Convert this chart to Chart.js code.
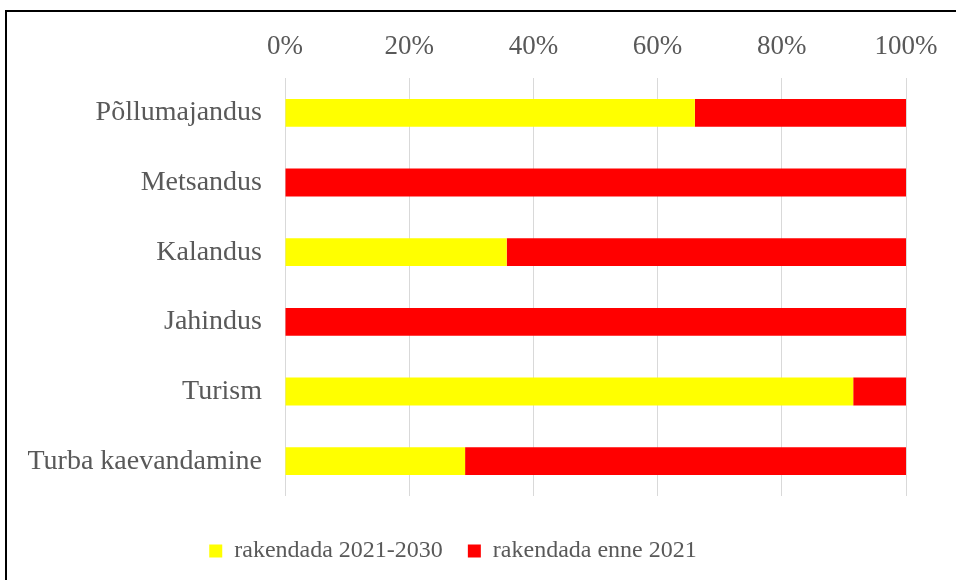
<!DOCTYPE html>
<html>
<head>
<meta charset="utf-8">
<script src="https://cdn.jsdelivr.net/npm/chart.js@4"></script>
<style>
  html, body { margin: 0; padding: 0; overflow: hidden; background: #fff; }
  #frame { position: absolute; left: 5px; top: 10px; width: 1000px; height: 700px; border: 2px solid #000; }
  #wrap { position: absolute; left: 0; top: 0; width: 956px; height: 580px; }
</style>
</head>
<body>
<div id="frame"></div>
<div id="wrap"><canvas id="myChart"></canvas></div>
<script>
const categories = ['Põllumajandus', 'Metsandus', 'Kalandus', 'Jahindus', 'Turism', 'Turba kaevandamine'];
const later = [66, 0, 35.7, 0, 91.5, 29];      // rakendada 2021-2030
const before = [34, 100, 64.3, 100, 8.5, 71];  // rakendada enne 2021
const xTicks = [0, 20, 40, 60, 80, 100];

const font = 'Liberation Serif';
const grey = '#595959';

const ctx = document.getElementById('myChart');

new Chart(ctx, {
    type: 'bar',
    data: {
        labels: categories,
        datasets: [{
            label: 'rakendada 2021-2030',
            data: later,
            backgroundColor: '#FFFF00',
            borderWidth: 0
        },
        {
            label: 'rakendada enne 2021',
            data: before,
            backgroundColor: '#FF0000',
            borderWidth: 0
        }]
    },
    options: {
        indexAxis: 'y',
        responsive: true,
        maintainAspectRatio: false,
        animation: false,
        layout: { padding: { left: 0, top: 20, right: 50, bottom: 7 } },
        datasets: { bar: { categoryPercentage: 1, barPercentage: 0.4 } },
        scales: {
            x: {
                position: 'top',
                stacked: true,
                min: 0,
                max: 100,
                afterBuildTicks: function(scale) {
                    scale.ticks = xTicks.map(v => ({ value: v }));
                },
                afterFit: function(scale) { scale.height = 58; },
                grid: { color: '#d9d9d9', lineWidth: 1, drawTicks: false },
                border: { display: false },
                ticks: {
                    padding: 15,
                    color: grey,
                    font: { family: font, size: 27 },
                    callback: v => v + '%'
                }
            },
            // empty spacer below the plot, keeps the legend lower
            spacer: {
                type: 'linear',
                axis: 'x',
                position: 'bottom',
                afterFit: function(scale) { scale.height = 18; },
                grid: { display: false, drawTicks: false },
                border: { display: false },
                ticks: { display: false }
            },
            y: {
                stacked: true,
                afterFit: function(scale) { scale.width = 285; },
                grid: { display: false, drawTicks: false },
                border: { display: false },
                ticks: {
                    padding: 23,
                    color: grey,
                    font: { family: font, size: 28 }
                }
            }
        },
        plugins: {
            tooltip: { enabled: false },
            legend: {
                position: 'bottom',
                labels: {
                    boxWidth: 13,
                    boxHeight: 13,
                    padding: 25,
                    color: grey,
                    font: { family: font, size: 24 }
                }
            }
        }
    }
});
</script>
</body>
</html>
